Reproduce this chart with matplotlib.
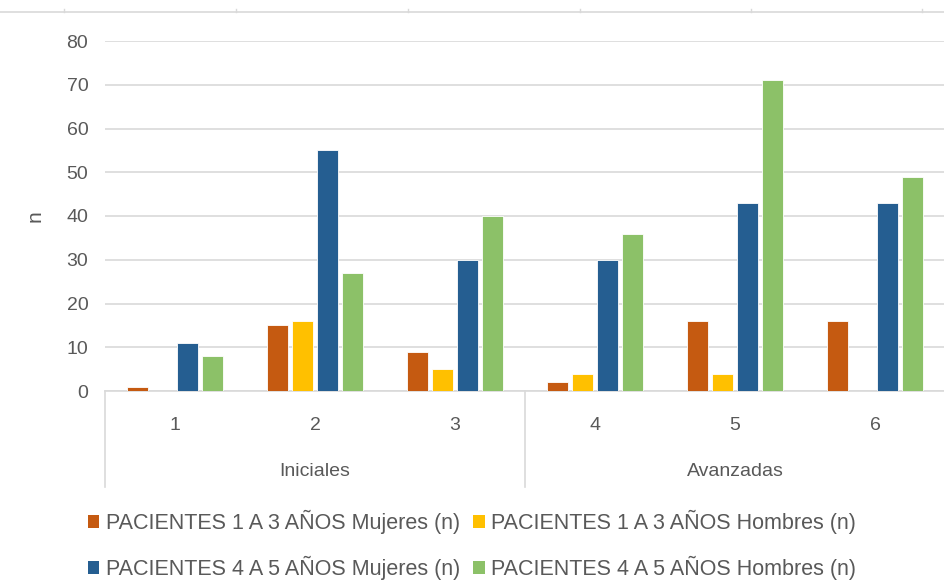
import numpy as np
import matplotlib.pyplot as plt
from matplotlib.lines import Line2D
from matplotlib.patches import Patch

plt.rcParams['font.family'] = ['Liberation Sans', 'DejaVu Sans']

categories = ['1', '2', '3', '4', '5', '6']
groups = ['Iniciales', 'Avanzadas']
series_names = [
    'PACIENTES 1 A 3 AÑOS Mujeres (n)',
    'PACIENTES 1 A 3 AÑOS Hombres (n)',
    'PACIENTES 4 A 5 AÑOS Mujeres (n)',
    'PACIENTES 4 A 5 AÑOS Hombres (n)',
]
muj_1a3 = [1, 15, 9, 2, 16, 16]
hom_1a3 = [0, 16, 5, 4, 4, 0]
muj_4a5 = [11, 55, 30, 30, 43, 43]
hom_4a5 = [8, 27, 40, 36, 71, 49]
colors = ['#C55A11', '#FFC000', '#255E91', '#8CC168']

text_col = '#595959'
grid_col = '#D9D9D9'
fs = 14

fig = plt.figure(figsize=(9.44, 5.81), dpi=100)
ax = fig.add_axes([105 / 944, 1 - 391 / 581, 840 / 944, 350 / 581])

x = np.arange(len(categories))
w = 0.15
pitch = 0.178
all_series = [muj_1a3, hom_1a3, muj_4a5, hom_4a5]
for i, vals in enumerate(all_series):
    off = (i - 1.5) * pitch
    ax.bar(x + off, vals, width=w, color=colors[i], edgecolor='white', linewidth=0.6, zorder=3)

ax.set_xlim(-0.5, 5.5)
ax.set_ylim(0, 80)
ax.set_yticks(range(0, 81, 10))
ax.yaxis.grid(True, color=grid_col, linewidth=1.2, zorder=0)
ax.tick_params(axis='y', length=0, labelsize=fs, labelcolor=text_col, pad=12)
ax.tick_params(axis='x', length=0, labelsize=fs, labelcolor=text_col, pad=19)
ax.set_xticks(x)
ax.set_xticklabels(categories)
for s in ['top', 'right', 'left']:
    ax.spines[s].set_visible(False)
ax.spines['bottom'].set_color(grid_col)
ax.spines['bottom'].set_linewidth(1.2)
ax.set_ylabel('n', fontsize=fs + 1, color=text_col, labelpad=16)

# category group separators and labels
trans = ax.get_xaxis_transform()
for bx in [-0.5, 2.5, 5.5]:
    ax.plot([bx, bx], [0, -0.275], color=grid_col, linewidth=1.2, transform=trans, clip_on=False)
ax.text(1, -0.23, groups[0], transform=trans, ha='center', va='center', fontsize=fs, color=text_col)
ax.text(4, -0.23, groups[1], transform=trans, ha='center', va='center', fontsize=fs, color=text_col)

# leftover frame line at top edge
fig.add_artist(Line2D([0, 1], [1 - 12 / 581, 1 - 12 / 581], color=grid_col, linewidth=1.2))
for tx in [64, 236, 408, 580, 751, 922]:
    fig.add_artist(Line2D([tx / 944, tx / 944], [1 - 12 / 581, 1 - 9 / 581], color=grid_col, linewidth=1))

handles = [Patch(facecolor=c, edgecolor='none') for c in colors]
order = [0, 2, 1, 3]
leg = fig.legend([handles[k] for k in order], [series_names[k] for k in order],
                 loc='center', bbox_to_anchor=(0.5, 1 - 545 / 581), ncol=2,
                 frameon=False, fontsize=15.5, handlelength=0.55, handleheight=0.55,
                 handletextpad=0.3, columnspacing=0.6, labelspacing=1.0)
for t in leg.get_texts():
    t.set_color(text_col)

fig.savefig('out.png', dpi=100)
